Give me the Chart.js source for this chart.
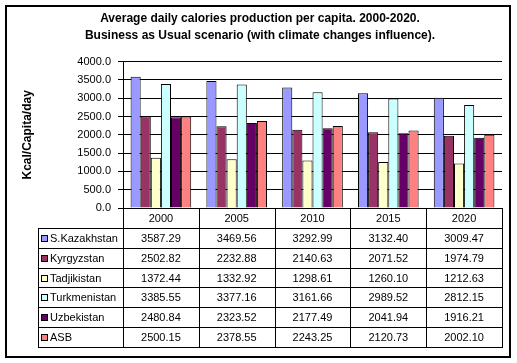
<!DOCTYPE html>
<html>
<head>
<meta charset="utf-8">
<script src="https://cdn.jsdelivr.net/npm/chart.js@4.4.1/dist/chart.umd.min.js"></script>
<style>
  html, body { margin: 0; padding: 0; background: #fff; }
</style>
</head>
<body>
<canvas id="caloriesChart" width="517" height="363"></canvas>
<script>
const years = ['2000', '2005', '2010', '2015', '2020'];
const regions = ['S.Kazakhstan', 'Kyrgyzstan', 'Tadjikistan', 'Turkmenistan', 'Uzbekistan', 'ASB'];

const sKazakhstan = [3587.29, 3469.56, 3292.99, 3132.40, 3009.47];
const kyrgyzstan = [2502.82, 2232.88, 2140.63, 2071.52, 1974.79];
const tadjikistan = [1372.44, 1332.92, 1298.61, 1260.10, 1212.63];
const turkmenistan = [3385.55, 3377.16, 3161.66, 2989.52, 2812.15];
const uzbekistan = [2480.84, 2323.52, 2177.49, 2041.94, 1916.21];
const asb = [2500.15, 2378.55, 2243.25, 2120.73, 2002.10];

const seriesValues = [sKazakhstan, kyrgyzstan, tadjikistan, turkmenistan, uzbekistan, asb];
const seriesColors = ['#9999FF', '#993366', '#FFFFCC', '#CCFFFF', '#660066', '#FF8080'];

const FONT = '"Liberation Sans", Arial, sans-serif';

// draws the data table under the plot and the outer frame
const dataTablePlugin = {
  id: 'dataTable',
  afterDraw(chart) {
    const ctx = chart.ctx;
    const xScale = chart.scales.x;
    const area = chart.chartArea;
    const colW = (area.right - area.left) / years.length;
    const px = v => Math.round(v) + 0.5;

    const top = area.bottom;
    const headBottom = top + 20;
    const rowH = 19.8;
    const bottom = headBottom + rowH * regions.length;
    const left = 38;
    const right = area.right;

    ctx.save();
    ctx.strokeStyle = '#000';
    ctx.lineWidth = 1;
    ctx.beginPath();
    // column separators
    for (let i = 0; i <= years.length; i++) {
      const cx = px(xScale.getPixelForValue(0) - colW / 2 + i * colW);
      ctx.moveTo(cx, top);
      ctx.lineTo(cx, px(bottom));
    }
    // header bottom + row lines
    for (let r = 0; r <= regions.length; r++) {
      const y = px(headBottom + r * rowH);
      ctx.moveTo(left, y);
      ctx.lineTo(px(right) + 0.5, y);
    }
    ctx.moveTo(left + 0.5, px(headBottom));
    ctx.lineTo(left + 0.5, px(bottom));
    ctx.stroke();

    ctx.fillStyle = '#000';
    ctx.font = '11px ' + FONT;
    ctx.textBaseline = 'middle';
    ctx.textAlign = 'center';
    years.forEach((yr, i) => {
      ctx.fillText(yr, xScale.getPixelForValue(i), (top + headBottom) / 2 + 1);
    });

    regions.forEach((name, r) => {
      const yMid = headBottom + r * rowH + rowH / 2 + 1;
      ctx.fillStyle = seriesColors[r];
      ctx.fillRect(41, Math.round(yMid - 4), 7, 7);
      ctx.strokeRect(41.5, Math.round(yMid - 4) + 0.5, 6, 6);
      ctx.fillStyle = '#000';
      ctx.textAlign = 'left';
      ctx.fillText(name, 50, yMid);
      ctx.textAlign = 'center';
      seriesValues[r].forEach((v, i) => {
        ctx.fillText(v.toFixed(2), xScale.getPixelForValue(i), yMid);
      });
    });

    // outer frame
    ctx.lineWidth = 2;
    ctx.strokeRect(6, 6, 504, 351);
    ctx.restore();
  }
};

new Chart(document.getElementById('caloriesChart').getContext('2d'), {
  type: 'bar',
  data: {
    labels: years,
    datasets: regions.map((name, i) => ({
      label: name,
      data: seriesValues[i],
      backgroundColor: seriesColors[i],
      borderColor: '#000',
      borderWidth: 1,
      categoryPercentage: 0.8,
      barPercentage: 1.0,
    })),
  },
  options: {
    responsive: false,
    animation: false,
    layout: {
      padding: { left: 18, right: 15, top: 0, bottom: 155 },
    },
    plugins: {
      legend: { display: false },
      tooltip: { enabled: false },
      title: {
        display: true,
        text: ['Average daily calories production per capita. 2000-2020.',
               'Business as Usual scenario (with climate changes influence).'],
        color: '#000',
        font: { family: FONT, size: 12, weight: 'bold', lineHeight: 1.4 },
        padding: { top: 10, bottom: 18 },
      },
    },
    scales: {
      x: {
        display: false,
      },
      y: {
        min: 0,
        max: 4000,
        ticks: {
          stepSize: 500,
          color: '#000',
          font: { family: FONT, size: 11 },
          padding: 7,
          callback: v => v.toFixed(1),
        },
        grid: {
          color: '#000',
          lineWidth: 1,
          tickLength: 5,
        },
        border: { display: true, color: '#000' },
        title: {
          display: true,
          text: 'Kcal/Capita/day',
          color: '#000',
          font: { family: FONT, size: 12, weight: 'bold' },
          padding: { top: 2, bottom: 0 },
        },
        afterFit(scale) {
          scale.width = 105;
        },
      },
    },
  },
  plugins: [dataTablePlugin],
});
</script>
</body>
</html>
